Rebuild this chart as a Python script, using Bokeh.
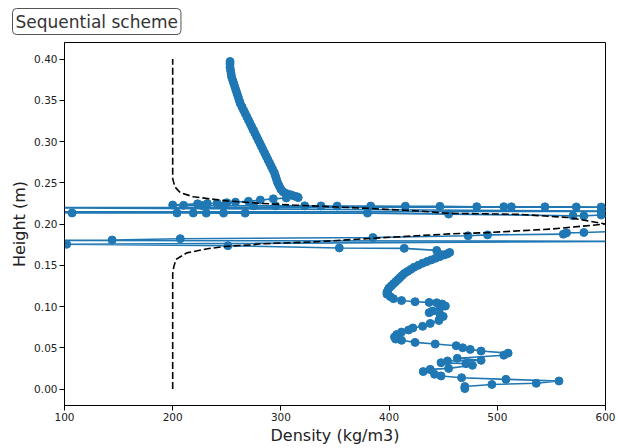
from bokeh.plotting import figure
from bokeh.models import Range1d, FixedTicker, PrintfTickFormatter, ColumnDataSource
from bokeh.embed import file_html
from bokeh.resources import INLINE

# ---------------- data ----------------
x_ticks = [100, 200, 300, 400, 500, 600]
y_ticks = [0.00, 0.05, 0.10, 0.15, 0.20, 0.25, 0.30, 0.35, 0.40]

# initial profile (dashed)
init_density = [200, 200, 201, 203, 213, 232, 250, 272, 281, 333, 394, 456, 490, 551, 600,
                567, 521, 453, 428, 380, 311, 281, 250, 219, 207, 202, 200, 200]
init_height = [0.000, 0.140, 0.148, 0.157, 0.165, 0.170, 0.173, 0.1745, 0.176, 0.1785, 0.1834, 0.188, 0.1895, 0.194, 0.200,
               0.2077, 0.2117, 0.213, 0.2157, 0.219, 0.223, 0.225, 0.228, 0.233, 0.238, 0.245, 0.255, 0.400]

# sequential scheme result
density = [
    253, 253, 253, 253.5, 254, 254.5, 255.5, 256.5, 257.5, 258.5, 259.5, 260.5, 261.5, 262.5,
    264, 265.5, 267, 268.5, 270, 271.5, 273, 274.5, 276, 277.5, 279, 280.5, 282, 283.5, 285,
    286.5, 288, 289.5, 291, 292.5, 294, 295, 296, 297, 298.5, 300, 302, 305, 309, 312, 315, 316,
    305, 293, 281, 270, 258, 250, 241, 232, 223,
    200, 210, 227, 247, 275, 295, 322, 337, 352, 383, 415, 447, 481, 506, 513, 544, 573, 596,
    640, 60, 596, 640, 60,
    107, 204, 219, 231, 247, 267, 380, 455, 570, 580, 596,
    640, 580, 564, 561, 491, 473, 385, 207, 144, 60, 640,
    102, 251, 354, 414, 444, 456,
    454, 451, 447, 443, 439, 435, 431, 427, 423, 420, 417, 414, 412, 410, 408, 406, 404, 402,
    400, 399, 398, 398, 401, 404,
    411.5, 424, 437, 444, 449, 452, 447, 440, 437, 447, 450, 447, 446, 438, 431, 422, 418,
    411.5, 407, 405, 406, 411.5, 424, 442.6, 462, 468, 475, 485, 510, 506, 463, 485, 454, 448,
    471, 477, 455, 438, 431.5, 442, 448, 467, 508, 557, 536, 495, 470, 470,
]
height = [
    0.397, 0.394, 0.390, 0.386, 0.382, 0.378, 0.374, 0.370, 0.366, 0.362, 0.358, 0.354, 0.350, 0.346,
    0.342, 0.338, 0.334, 0.330, 0.326, 0.322, 0.318, 0.314, 0.310, 0.306, 0.302, 0.298, 0.294, 0.290, 0.286,
    0.282, 0.278, 0.274, 0.270, 0.266, 0.262, 0.258, 0.254, 0.250, 0.246, 0.242, 0.239, 0.237, 0.2355, 0.234, 0.233, 0.232,
    0.2315, 0.2305, 0.2290, 0.2275, 0.2265, 0.2258, 0.2252, 0.2248, 0.2245,
    0.2230, 0.2226, 0.2224, 0.2222, 0.2221, 0.2220, 0.2220, 0.2219, 0.2218, 0.2217, 0.2216, 0.2214, 0.2210, 0.2209, 0.2209, 0.2208, 0.2207, 0.2206,
    0.2204, 0.2198, 0.2158, 0.2152, 0.2146,
    0.2134, 0.2133, 0.2133, 0.2132, 0.2132, 0.2132, 0.2132, 0.2120, 0.2100, 0.2098, 0.2109,
    0.1925, 0.1897, 0.1893, 0.1877, 0.1868, 0.1857, 0.1836, 0.1822, 0.1806, 0.1800, 0.1790,
    0.1754, 0.1737, 0.1710, 0.1705, 0.1680, 0.1655,
    0.1640, 0.1625, 0.1605, 0.1585, 0.1565, 0.1545, 0.1525, 0.1500, 0.1475, 0.1450, 0.1425, 0.1400, 0.1375, 0.1350, 0.1325, 0.1300, 0.1275, 0.1250,
    0.1225, 0.1200, 0.1175, 0.1150, 0.1120, 0.1095,
    0.1072, 0.1058, 0.1050, 0.1045, 0.1030, 0.1005, 0.0985, 0.0945, 0.0925, 0.0905, 0.0880, 0.0860, 0.0830, 0.0795, 0.0760, 0.0740, 0.0715,
    0.0690, 0.0660, 0.0630, 0.0605, 0.0590, 0.0565, 0.0545, 0.0525, 0.0500, 0.0480, 0.0460, 0.0435, 0.0410, 0.0372, 0.0347, 0.0340, 0.0319,
    0.0307, 0.0287, 0.0250, 0.0238, 0.0211, 0.0178, 0.0158, 0.0137, 0.0117, 0.0097, 0.0069, 0.0055, 0.0030, 0.0005,
]

# ---------------- figure ----------------
BLUE = "#1f77b4"
FONT = "DejaVu Sans"

p = figure(width=618, height=448, output_backend="svg", toolbar_location=None,
           x_range=Range1d(100, 600), y_range=Range1d(-0.02, 0.42),
           min_border_left=64, min_border_right=13, min_border_top=42, min_border_bottom=43,
           title="Sequential scheme")

p.grid.visible = False
p.outline_line_color = "black"
p.outline_line_width = 1
p.background_fill_color = "white"
p.border_fill_color = "white"

src = ColumnDataSource(dict(x=density, y=height))
p.line("x", "y", source=src, line_color=BLUE, line_width=1.6)
p.scatter("x", "y", source=src, size=8, fill_color=BLUE, line_color=BLUE)
p.line(init_density, init_height, line_color="black", line_dash="7 3", line_width=1.6)

p.xaxis.ticker = FixedTicker(ticks=x_ticks)
p.yaxis.ticker = FixedTicker(ticks=y_ticks)
p.yaxis.formatter = PrintfTickFormatter(format="%.2f")
p.axis.minor_tick_line_color = None
p.axis.major_tick_out = 5
p.axis.major_tick_in = 0
p.axis.axis_line_color = "black"
p.axis.major_tick_line_color = "black"
p.axis.major_label_text_font = FONT
p.axis.major_label_text_font_size = "10.5px"
p.axis.major_label_text_color = "#222222"
p.axis.major_label_standoff = 2
p.xaxis.axis_label = "Density (kg/m3)"
p.yaxis.axis_label = "Height (m)"
p.axis.axis_label_text_font = FONT
p.axis.axis_label_text_font_size = "16px"
p.axis.axis_label_text_font_style = "normal"
p.axis.axis_label_text_color = "#222222"
p.axis.axis_label_standoff = 2

p.title.text_font = FONT
p.title.text_font_size = "17px"
p.title.text_font_style = "normal"
p.title.text_color = "#333333"
p.title.align = "left"
p.title.vertical_align = "top"
p.title.offset = -52
p.title.standoff = 12
p.title.border_line_color = "#555555"
p.title.border_line_width = 1
p.title.background_fill_color = "white"
p.title.padding = 3
p.title.border_radius = 4

open("out.html", "w").write(file_html(p, INLINE))
